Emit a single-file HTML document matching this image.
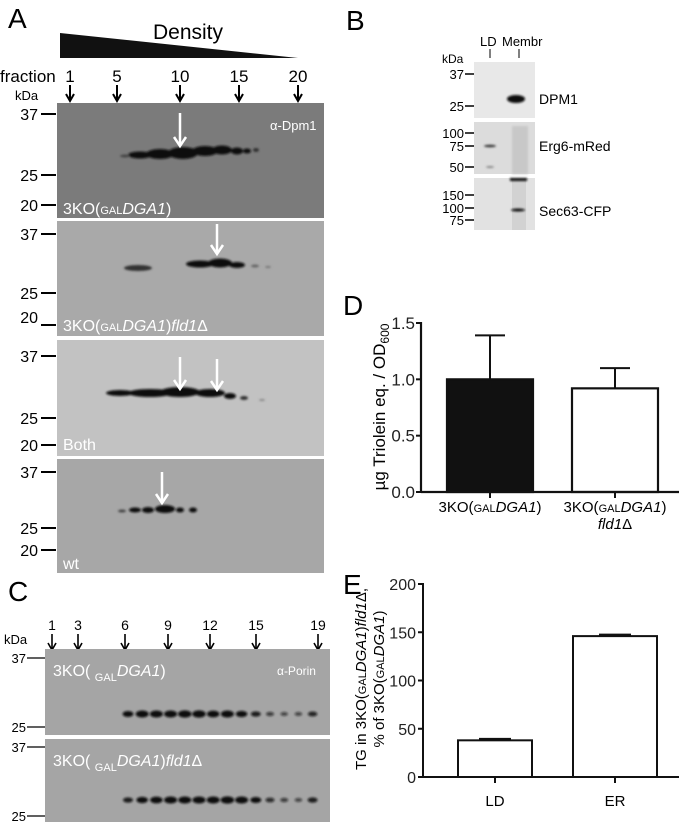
<!DOCTYPE html>
<html><head><meta charset="utf-8"><style>
html,body{margin:0;padding:0;background:#fff}
svg{display:block;font-family:"Liberation Sans",Arial,sans-serif}
</style></head><body>
<svg id="fig" width="679" height="822" viewBox="0 0 679 822">
<defs>
<filter id="bl" x="-20%" y="-200%" width="140%" height="500%"><feGaussianBlur stdDeviation="1"/></filter>
</defs>

<!-- Panel A -->
<g>
<text x="8" y="28" font-size="28">A</text>
<polygon points="60,33 298,58 60,58" fill="#111"/>
<text x="188" y="39" font-size="21" text-anchor="middle">Density</text>
<text x="0" y="82" font-size="17">fraction</text>
<text x="15" y="100" font-size="13">kDa</text>
<g id="fracA"></g>
<rect x="57" y="103" width="267" height="115" fill="#7b7b7b"/>
<rect x="57" y="221" width="267" height="115" fill="#a9a9a9"/>
<rect x="57" y="340" width="267" height="116" fill="#c2c2c2"/>
<rect x="57" y="459" width="267" height="114" fill="#a7a7a7"/>
<g filter="url(#bl)" fill="#111">
<ellipse cx="140" cy="155" rx="12" ry="3.5"/><ellipse cx="160" cy="154" rx="14" ry="5"/><ellipse cx="183" cy="153" rx="15" ry="6"/><ellipse cx="205" cy="151" rx="13" ry="5"/><ellipse cx="222" cy="150" rx="10" ry="4.5"/><ellipse cx="237" cy="151" rx="6" ry="3.5"/><ellipse cx="247" cy="151" rx="4" ry="2.5"/><ellipse cx="256" cy="150" rx="3" ry="2" fill="#333"/><ellipse cx="125" cy="156" rx="5" ry="1.5" fill="#444"/>
<ellipse cx="138" cy="268" rx="14" ry="3" fill="#333"/><ellipse cx="200" cy="264" rx="14" ry="3.5"/><ellipse cx="220" cy="263" rx="12" ry="4.5"/><ellipse cx="237" cy="265" rx="8" ry="3"/><ellipse cx="255" cy="266" rx="4" ry="1.5" fill="#666"/><ellipse cx="268" cy="267" rx="3" ry="1" fill="#777"/>
<ellipse cx="120" cy="393" rx="14" ry="3"/><ellipse cx="150" cy="393" rx="22" ry="4"/><ellipse cx="180" cy="392" rx="20" ry="5"/><ellipse cx="210" cy="393" rx="15" ry="4"/><ellipse cx="230" cy="396" rx="6" ry="3"/><ellipse cx="244" cy="398" rx="4" ry="2" fill="#333"/><ellipse cx="262" cy="400" rx="3" ry="1" fill="#888"/>
<ellipse cx="122" cy="511" rx="4" ry="1.5" fill="#444"/><ellipse cx="135" cy="510" rx="6" ry="2.5"/><ellipse cx="148" cy="510" rx="6" ry="3"/><ellipse cx="165" cy="509" rx="10" ry="4"/><ellipse cx="180" cy="510" rx="4" ry="2.5"/><ellipse cx="193" cy="510" rx="4" ry="2.5"/>
</g>
<g stroke="#fff" stroke-width="2.5">
<line x1="180" y1="113" x2="180" y2="144"/><path d="M174,137 L180,146 L186,137" fill="none"/>
<line x1="217" y1="224" x2="217" y2="252"/><path d="M211,245 L217,254 L223,245" fill="none"/>
<line x1="180" y1="357" x2="180" y2="387"/><path d="M174,380 L180,389 L186,380" fill="none"/>
<line x1="217" y1="359" x2="217" y2="388"/><path d="M211,381 L217,390 L223,381" fill="none"/>
<line x1="162" y1="472" x2="162" y2="501"/><path d="M156,494 L162,503 L168,494" fill="none"/>
</g>
<g fill="#fff" font-size="16">
<text x="270" y="130" font-size="13">α-Dpm1</text>
<text x="63" y="214">3KO(<tspan font-size="11">GAL</tspan><tspan font-style="italic">DGA1</tspan>)</text>
<text x="63" y="331">3KO(<tspan font-size="11">GAL</tspan><tspan font-style="italic">DGA1</tspan>)<tspan font-style="italic">fld1</tspan>Δ</text>
<text x="63" y="450">Both</text>
<text x="63" y="569">wt</text>
</g>
<g font-size="16" text-anchor="end">
<text x="38" y="120">37</text><text x="38" y="181">25</text><text x="38" y="211">20</text>
<text x="38" y="240">37</text><text x="38" y="299">25</text><text x="38" y="323">20</text>
<text x="38" y="362">37</text><text x="38" y="424">25</text><text x="38" y="451">20</text>
<text x="38" y="478">37</text><text x="38" y="534">25</text><text x="38" y="556">20</text>
</g>
<g stroke="#000" stroke-width="2">
<line x1="41" y1="114" x2="56" y2="114"/><line x1="41" y1="175" x2="56" y2="175"/><line x1="41" y1="205" x2="56" y2="205"/>
<line x1="41" y1="234" x2="56" y2="234"/><line x1="41" y1="293" x2="56" y2="293"/><line x1="41" y1="325" x2="56" y2="325"/>
<line x1="41" y1="356" x2="56" y2="356"/><line x1="41" y1="418" x2="56" y2="418"/><line x1="41" y1="445" x2="56" y2="445"/>
<line x1="41" y1="472" x2="56" y2="472"/><line x1="41" y1="528" x2="56" y2="528"/><line x1="41" y1="550" x2="56" y2="550"/>
</g>
</g>

<!-- Panel B -->
<g>
<text x="346" y="30" font-size="28">B</text>
<text x="480" y="46" font-size="13">LD</text>
<text x="502" y="46" font-size="13">Membr</text>
<line x1="490" y1="49" x2="490" y2="58" stroke="#000"/><line x1="519" y1="49" x2="519" y2="58" stroke="#000"/>
<text x="442" y="63" font-size="12">kDa</text>
<rect x="474" y="62" width="61" height="56" fill="#e8e8e8"/>
<rect x="474" y="122" width="61" height="52" fill="#dcdcdc"/>
<rect x="474" y="178" width="61" height="52" fill="#e2e2e2"/>
<rect x="512" y="126" width="16" height="48" fill="#c8c8c8" filter="url(#bl)"/>
<rect x="512" y="180" width="14" height="50" fill="#d2d2d2"/>
<g filter="url(#bl)" fill="#111">
<ellipse cx="516" cy="99" rx="9" ry="4"/><ellipse cx="490" cy="146" rx="6" ry="1.2" fill="#333"/><ellipse cx="490" cy="167" rx="4" ry="1" fill="#888"/>
<ellipse cx="518" cy="210" rx="7" ry="1.5"/><rect x="510" y="178" width="17" height="3"/>
</g>
<g font-size="13" text-anchor="end">
<text x="464" y="79">37</text><text x="464" y="111">25</text>
<text x="464" y="138">100</text><text x="464" y="151">75</text><text x="464" y="172">50</text>
<text x="464" y="200">150</text><text x="464" y="213">100</text><text x="464" y="225">75</text>
</g>
<g stroke="#000" stroke-width="1.5">
<line x1="465" y1="74" x2="474" y2="74"/><line x1="465" y1="106" x2="474" y2="106"/>
<line x1="465" y1="133" x2="474" y2="133"/><line x1="465" y1="146" x2="474" y2="146"/><line x1="465" y1="167" x2="474" y2="167"/>
<line x1="465" y1="195" x2="474" y2="195"/><line x1="465" y1="208" x2="474" y2="208"/><line x1="465" y1="220" x2="474" y2="220"/>
</g>
<g font-size="14">
<text x="539" y="104">DPM1</text><text x="539" y="151">Erg6-mRed</text><text x="539" y="216">Sec63-CFP</text>
</g>
</g>

<!-- Panel C -->
<g>
<text x="8" y="601" font-size="28">C</text>
<text x="4" y="644" font-size="13">kDa</text>
<g id="fracC"></g>
<rect x="45" y="649" width="285" height="86" fill="#a5a5a5"/>
<rect x="45" y="739" width="285" height="83" fill="#a5a5a5"/>
<g id="bandsC" filter="url(#bl)" fill="#111"></g>
<g fill="#fff" font-size="16">
<text x="53" y="676">3KO( <tspan font-size="11" dy="5">GAL</tspan><tspan font-style="italic" dy="-5">DGA1</tspan>)</text>
<text x="277" y="675" font-size="12">α-Porin</text>
<text x="53" y="766">3KO( <tspan font-size="11" dy="5">GAL</tspan><tspan font-style="italic" dy="-5">DGA1</tspan>)<tspan font-style="italic">fld1</tspan>Δ</text>
</g>
<g font-size="13" text-anchor="end">
<text x="26" y="663">37</text><text x="26" y="732">25</text><text x="26" y="752">37</text><text x="26" y="821">25</text>
</g>
<g stroke="#000" stroke-width="1.2">
<line x1="27" y1="658" x2="45" y2="658"/><line x1="27" y1="727" x2="45" y2="727"/><line x1="27" y1="747" x2="45" y2="747"/><line x1="27" y1="816" x2="45" y2="816"/>
</g>
</g>

<!-- Panel D & E -->
<g>
<text x="343" y="315" font-size="28">D</text>
<g id="chartD"></g>
</g>
<g>
<text x="343" y="594" font-size="28">E</text>
<g id="chartE"></g>
</g>
</svg>
<script>
const NS='http://www.w3.org/2000/svg';
function mk(parent,tag,attrs,text){const e=document.createElementNS(NS,tag);for(const k in attrs)e.setAttribute(k,attrs[k]);if(text!==undefined)e.textContent=text;parent.appendChild(e);return e;}

const fracALabels=['1','5','10','15','20'];
const fracAX=[70,117,180,239,298];
const gA=document.getElementById('fracA');
fracALabels.forEach((l,i)=>{
  const t=mk(gA,'text',{x:fracAX[i],y:82,'font-size':17,'text-anchor':'middle'},l);
  
  
  mk(gA,'line',{x1:fracAX[i],y1:85,x2:fracAX[i],y2:100,stroke:'#000','stroke-width':2});
  mk(gA,'path',{d:`M${fracAX[i]-4},94 L${fracAX[i]},101 L${fracAX[i]+4},94`,fill:'none',stroke:'#000','stroke-width':2});
});
const fracCLabels=['1','3','6','9','12','15','19'];
const fracCX=[52,78,125,168,210,256,318];
const gC=document.getElementById('fracC');
fracCLabels.forEach((l,i)=>{
  const t=mk(gC,'text',{x:fracCX[i],y:630,'font-size':14,'text-anchor':'middle'},l);
  
  
  mk(gC,'line',{x1:fracCX[i],y1:634,x2:fracCX[i],y2:649,stroke:'#000','stroke-width':1.6});
  mk(gC,'path',{d:`M${fracCX[i]-4},643 L${fracCX[i]},650 L${fracCX[i]+4},643`,fill:'none',stroke:'#000','stroke-width':1.6});
});
const porin1=[0.7,0.9,0.9,0.9,0.95,0.95,0.85,0.9,0.75,0.6,0.4,0.35,0.35,0.55];
const porin2=[0.6,0.75,0.85,0.9,0.9,0.9,0.9,0.95,0.9,0.7,0.5,0.4,0.35,0.6];
const bC=document.getElementById('bandsC');
[[porin1,714],[porin2,800]].forEach(([arr,y])=>{
  arr.forEach((v,i)=>{
    const x=128+i*14.2;
    const e=mk(bC,'ellipse',{cx:x,cy:y,rx:2+5*v,ry:1+2.8*v,'fill-opacity':Math.min(1,0.3+v)});
    
    
  });
});

const dCats=['3KO(GAL DGA1)','3KO(GAL DGA1) fld1Δ'];
const dVals=[1.0,0.92];
const dErr=[0.39,0.18];
const dTicks=[0,0.5,1.0,1.5];
(function(){
  const g=document.getElementById('chartD');
  const x0=421,x1=679,yb=492,yt=323,vmax=1.5;
  const y=v=>yb-(v/vmax)*(yb-yt);
  const bx=[447,572],bw=86;
  const fills=['#111','#fff'];
  dVals.forEach((v,i)=>{
    const cx=bx[i]+bw/2;
    mk(g,'line',{x1:cx,y1:y(v),x2:cx,y2:y(v+dErr[i]),stroke:'#111','stroke-width':2});
    mk(g,'line',{x1:cx-15,y1:y(v+dErr[i]),x2:cx+15,y2:y(v+dErr[i]),stroke:'#111','stroke-width':2});
    const r=mk(g,'rect',{x:bx[i],y:y(v),width:bw,height:yb-y(v),fill:fills[i],stroke:'#111','stroke-width':2.2});
    
    
    mk(g,'line',{x1:cx,y1:yb,x2:cx,y2:yb+6,stroke:'#111','stroke-width':2});
  });
  mk(g,'line',{x1:x0,y1:yt-1,x2:x0,y2:yb+1,stroke:'#111','stroke-width':2.2});
  mk(g,'line',{x1:x0,y1:yb,x2:x1,y2:yb,stroke:'#111','stroke-width':2.2});
  dTicks.forEach(t=>{
    mk(g,'line',{x1:x0-5,y1:y(t),x2:x0,y2:y(t),stroke:'#111','stroke-width':2});
    const tl=mk(g,'text',{x:x0-6,y:y(t)+6,'font-size':17,'text-anchor':'end',fill:'#222'},t.toFixed(1));
    
    
  });
  dCats.forEach((c,i)=>{
    const t=mk(g,'text',{x:bx[i]+bw/2,y:512,'font-size':15,'text-anchor':'middle'});
    t.innerHTML='3KO(<tspan font-size="11">GAL</tspan><tspan font-style="italic">DGA1</tspan>)';
    
    
  });
  const f=mk(g,'text',{x:bx[1]+bw/2,y:529,'font-size':15,'text-anchor':'middle','font-style':'italic'});
  f.innerHTML='fld1<tspan font-style="normal">Δ</tspan>';
  const yl=mk(g,'text',{x:0,y:0,'font-size':17,'text-anchor':'middle',transform:'translate(385,407) rotate(-90)'});
  yl.innerHTML='µg Triolein eq. / OD<tspan font-size="12" dy="4">600</tspan>';
  
  
})();

const eCats=['LD','ER'];
const eVals=[38,146];
const eErr=[1.5,1.5];
const eTicks=[0,50,100,150,200];
(function(){
  const g=document.getElementById('chartE');
  const x0=423,x1=679,yb=777,yt=584,vmax=200;
  const y=v=>yb-(v/vmax)*(yb-yt);
  const bx=[458,573],bw=[74,84];
  eVals.forEach((v,i)=>{
    const cx=bx[i]+bw[i]/2;
    mk(g,'line',{x1:cx-16,y1:y(v+eErr[i]),x2:cx+16,y2:y(v+eErr[i]),stroke:'#111','stroke-width':2});
    const r=mk(g,'rect',{x:bx[i],y:y(v),width:bw[i],height:yb-y(v),fill:'#fff',stroke:'#111','stroke-width':2});
    
    
    mk(g,'line',{x1:cx,y1:yb,x2:cx,y2:yb+6,stroke:'#111','stroke-width':2});
    const t=mk(g,'text',{x:cx,y:806,'font-size':15,'text-anchor':'middle'},eCats[i]);
    
    
  });
  mk(g,'line',{x1:x0,y1:yt-1,x2:x0,y2:yb+1,stroke:'#111','stroke-width':2});
  mk(g,'line',{x1:x0,y1:yb,x2:x1,y2:yb,stroke:'#111','stroke-width':2});
  eTicks.forEach(t=>{
    mk(g,'line',{x1:x0-5,y1:y(t),x2:x0,y2:y(t),stroke:'#111','stroke-width':2});
    const tl=mk(g,'text',{x:x0-7,y:y(t)+6,'font-size':16,'text-anchor':'end',fill:'#222'},String(t));
    
    
  });
  const y1=mk(g,'text',{x:0,y:0,'font-size':15,'text-anchor':'middle',transform:'translate(366,679) rotate(-90)'});
  y1.innerHTML='TG in 3KO(<tspan font-size="11">GAL</tspan><tspan font-style="italic">DGA1</tspan>)<tspan font-style="italic">fld1</tspan>Δ,';
  
  
  const y2=mk(g,'text',{x:0,y:0,'font-size':15,'text-anchor':'middle',transform:'translate(384,679) rotate(-90)'});
  y2.innerHTML='% of 3KO(<tspan font-size="11">GAL</tspan><tspan font-style="italic">DGA1</tspan>)';
  
  
})();
</script>
</body></html>
